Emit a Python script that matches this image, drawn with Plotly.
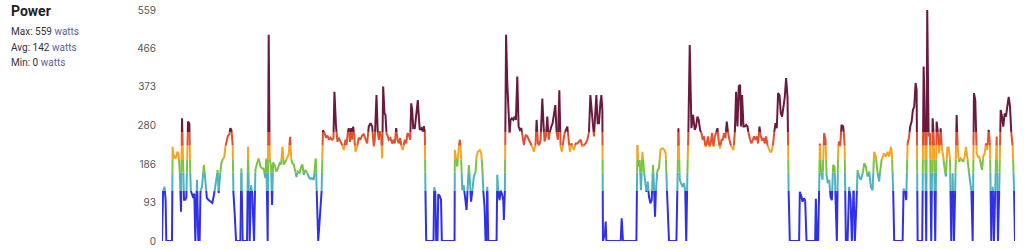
import plotly.graph_objects as go

# ---- data ----
elapsed = [
    161.7, 162.3, 163.7, 164.3, 165.3, 166.0, 171.7, 172.3, 173.3, 174.3, 175.7, 177.0, 178.3, 179.3,
    180.7, 181.7, 182.7, 183.7, 185.0, 186.0, 187.7, 189.0, 190.3, 191.7, 193.0, 194.0, 195.0, 196.7,
    198.0, 199.3, 200.0, 201.7, 203.5, 205.0, 206.5, 208.0, 210.0, 212.0, 213.5, 214.5, 216.0, 217.3,
    218.3, 219.3, 221.0, 222.7, 224.0, 225.0, 226.0, 227.5, 229.0, 230.0, 231.0, 232.3, 233.0, 234.3,
    235.7, 240.0, 241.0, 242.3, 246.7, 247.7, 249.3, 250.7, 251.7, 253.7, 255.0, 256.7, 258.3, 260.0,
    261.7, 263.3, 265.0, 266.0, 267.3, 268.3, 269.3, 270.7, 271.7, 272.7, 274.0, 276.0, 277.3, 279.3,
    280.7, 282.0, 283.3, 285.0, 286.7, 288.3, 289.7, 290.7, 292.0, 293.3, 294.7, 296.0, 297.3, 299.3,
    300.7, 302.0, 303.3, 305.0, 306.7, 308.3, 310.0, 311.7, 313.3, 315.3, 317.8, 319.5, 321.0, 322.5,
    324.0, 325.5, 327.0, 328.5, 330.0, 331.5, 333.0, 334.0, 335.5, 337.0, 338.3, 340.0, 341.5, 343.3,
    345.0, 346.0, 347.3, 348.3, 349.5, 350.7, 351.7, 352.7, 354.0, 355.0, 356.7, 358.3, 360.0, 361.5,
    363.3, 365.0, 366.7, 368.3, 370.0, 371.7, 373.3, 374.3, 376.0, 377.3, 378.3, 379.3, 380.7, 381.7,
    382.7, 384.0, 385.0, 386.0, 387.3, 388.3, 390.0, 391.7, 393.3, 394.3, 395.7, 397.0, 398.3, 399.7,
    401.0, 402.3, 404.3, 405.7, 407.0, 408.3, 409.7, 410.7, 411.7, 412.7, 414.3, 416.0, 417.3, 418.3,
    419.3, 421.0, 422.3, 423.3, 424.3, 425.0, 425.7, 433.0, 433.7, 434.7, 435.7, 437.0, 437.7, 439.0,
    440.5, 441.3, 454.0, 454.3, 455.7, 456.7, 458.3, 459.3, 460.3, 461.7, 463.0, 465.0, 466.0, 468.3,
    469.5, 470.5, 471.7, 473.3, 475.0, 476.0, 477.3, 479.3, 480.7, 481.7, 482.7, 484.0, 485.0, 486.0,
    486.7, 487.7, 496.0, 496.7, 497.7, 499.0, 500.0, 501.3, 502.7, 503.3, 504.3, 505.5, 506.7, 508.0,
    509.0, 510.0, 511.3, 512.7, 514.0, 515.3, 516.7, 518.0, 519.3, 520.7, 522.0, 523.3, 525.0, 526.7,
    528.3, 530.0, 531.7, 533.3, 535.0, 536.0, 537.3, 538.7, 540.0, 541.7, 543.0, 544.0, 545.3, 546.7,
    548.0, 549.3, 550.7, 552.0, 553.3, 554.7, 556.0, 557.3, 558.7, 560.0, 561.3, 562.7, 564.0, 565.3,
    566.7, 568.0, 569.3, 570.7, 572.0, 573.3, 575.0, 576.7, 578.3, 580.0, 581.7, 583.3, 585.0, 586.7,
    588.3, 589.7, 591.0, 592.3, 593.3, 594.3, 595.7, 597.0, 598.3, 599.7, 600.7, 601.7, 602.3, 604.3,
    605.0, 605.7, 620.0, 621.0, 622.3, 635.7, 636.7, 637.7, 639.0, 640.3, 641.7, 643.0, 644.3, 645.7,
    647.0, 648.3, 649.7, 651.0, 652.3, 653.3, 654.3, 655.7, 657.0, 658.3, 659.7, 661.0, 662.3, 663.7,
    665.0, 666.0, 667.0, 668.3, 675.7, 676.7, 677.7, 679.0, 680.3, 681.7, 683.3, 684.5, 685.5, 686.7,
    688.0, 689.0, 690.7, 692.3, 694.0, 695.3, 696.7, 698.0, 699.3, 700.7, 702.0, 703.3, 704.7, 706.0,
    707.3, 708.7, 710.0, 711.3, 712.7, 714.0, 715.3, 716.7, 718.0, 719.3, 720.7, 722.0, 723.3, 724.7,
    726.0, 727.3, 728.7, 730.0, 731.3, 732.7, 734.0, 735.3, 736.7, 738.0, 739.3, 740.3, 741.3, 742.7,
    744.0, 745.3, 746.7, 748.0, 749.3, 750.7, 752.0, 753.3, 754.7, 756.0, 757.3, 758.7, 760.0, 761.3,
    762.7, 764.0, 765.3, 766.7, 768.0, 769.3, 770.7, 772.0, 773.3, 774.7, 776.0, 777.3, 778.7, 780.0,
    781.3, 782.7, 784.0, 785.3, 786.7, 788.3, 789.0, 798.3, 799.0, 800.7, 801.7, 803.0, 804.3, 805.7,
    814.3, 815.0, 816.0, 817.3, 818.3, 819.0, 820.3, 821.7, 823.3, 824.7, 825.7, 827.0, 828.3, 829.7,
    831.0, 832.3, 833.7, 835.0, 836.0, 837.3, 838.3, 839.3, 840.7, 842.3, 843.7, 845.0, 846.7, 848.3,
    849.7, 851.0, 852.7, 854.0, 855.7, 856.7, 858.3, 860.0, 861.7, 863.3, 865.0, 866.7, 868.3, 870.0,
    871.7, 873.3, 875.0, 876.7, 878.3, 880.0, 881.7, 883.3, 885.0, 886.7, 888.3, 890.0, 891.0, 892.3,
    893.3, 901.7, 902.7, 904.0, 905.3, 906.7, 908.0, 909.3, 910.7, 912.0, 913.3, 914.7, 915.7, 916.7,
    921.3, 922.7, 924.0, 925.3, 926.3, 927.7, 929.0, 930.3, 931.7, 933.0, 934.3, 935.7, 937.0, 938.3,
    939.7, 941.0, 942.3, 943.7, 945.0, 946.3, 947.7, 949.0, 950.3, 951.7, 953.0, 954.3, 955.7, 957.0,
    958.3, 959.7, 961.0, 962.3, 963.7, 965.0, 966.3, 967.7, 969.0, 970.3, 971.7, 973.0, 974.3, 975.7,
    977.0, 978.3, 979.7, 981.0, 982.3, 983.7, 985.0, 986.3, 987.7, 989.0, 990.3, 991.7, 993.0, 994.3,
    995.7, 997.0, 998.3, 999.7, 1001.0, 1002.3, 1003.7, 1005.0, 1006.3, 1007.7, 1009.0, 1010.3, 1011.7,
    1013.0, 1014.0,
]

power = [
    0, 119, 125, 131, 100, 0, 0, 228, 200, 205, 200, 216, 210, 180,
    71, 297, 200, 100, 100, 105, 289, 285, 123, 112, 104, 115, 0, 148,
    0, 0, 120, 131, 184, 150, 104, 100, 97, 92, 110, 125, 143, 172,
    116, 148, 189, 200, 204, 228, 237, 254, 258, 273, 269, 244, 120, 67,
    0, 0, 176, 0, 0, 228, 0, 135, 118, 0, 172, 188, 200, 180,
    176, 175, 152, 200, 0, 499, 200, 180, 87, 190, 185, 168, 175, 188,
    185, 228, 185, 192, 200, 210, 252, 200, 188, 185, 172, 155, 168, 165,
    180, 185, 160, 172, 165, 155, 150, 152, 148, 200, 0, 60, 100, 268,
    262, 250, 255, 245, 250, 245, 248, 361, 280, 240, 250, 240, 235, 220,
    245, 232, 262, 273, 240, 273, 245, 277, 250, 216, 228, 250, 245, 255,
    258, 245, 236, 277, 285, 277, 228, 245, 353, 261, 245, 265, 253, 200,
    374, 309, 305, 261, 253, 245, 249, 236, 245, 236, 273, 245, 236, 249,
    228, 220, 245, 236, 261, 257, 245, 333, 317, 273, 273, 305, 341, 301,
    269, 273, 265, 278, 265, 100, 0, 0, 130, 120, 0, 0, 113, 110,
    100, 0, 0, 220, 196, 180, 228, 245, 220, 123, 135, 99, 75, 184,
    140, 95, 120, 156, 168, 204, 216, 220, 212, 180, 123, 83, 0, 0,
    131, 0, 0, 160, 119, 99, 123, 115, 99, 51, 123, 499, 382, 301,
    261, 293, 297, 293, 301, 293, 398, 277, 269, 273, 253, 232, 257, 253,
    245, 236, 228, 216, 236, 293, 236, 232, 245, 345, 277, 241, 253, 301,
    245, 265, 277, 285, 309, 329, 261, 245, 365, 228, 216, 245, 261, 269,
    277, 245, 216, 236, 228, 220, 236, 236, 241, 245, 228, 232, 236, 245,
    261, 353, 317, 285, 253, 301, 353, 285, 285, 333, 353, 317, 0, 19,
    47, 0, 0, 55, 0, 0, 232, 180, 196, 123, 216, 180, 140, 119,
    144, 107, 91, 99, 184, 131, 59, 156, 172, 176, 220, 224, 224, 220,
    212, 140, 71, 0, 0, 135, 273, 148, 140, 131, 140, 123, 0, 168,
    300, 474, 273, 305, 269, 277, 301, 293, 269, 261, 245, 253, 228, 236,
    253, 228, 236, 261, 228, 253, 261, 273, 236, 224, 245, 245, 261, 249,
    289, 261, 245, 232, 224, 220, 257, 361, 277, 374, 378, 277, 353, 277,
    277, 281, 277, 257, 245, 236, 245, 253, 245, 253, 236, 277, 253, 245,
    249, 236, 253, 232, 224, 216, 216, 228, 261, 285, 273, 358, 353, 309,
    301, 325, 349, 394, 349, 19, 0, 0, 119, 107, 95, 103, 99, 0,
    0, 102, 0, 0, 123, 236, 164, 148, 261, 245, 160, 140, 148, 107,
    99, 184, 180, 83, 0, 228, 241, 228, 281, 277, 245, 0, 0, 131,
    99, 0, 123, 0, 99, 172, 156, 148, 160, 188, 180, 156, 168, 131,
    123, 216, 204, 164, 144, 192, 204, 212, 204, 216, 204, 228, 212, 119,
    0, 0, 127, 119, 99, 236, 249, 277, 289, 317, 325, 382, 366, 0,
    0, 422, 301, 0, 559, 253, 261, 0, 297, 245, 0, 289, 261, 212,
    273, 224, 204, 172, 156, 224, 228, 204, 0, 164, 0, 131, 305, 204,
    192, 200, 196, 192, 204, 228, 204, 172, 148, 131, 0, 358, 341, 212,
    204, 204, 188, 172, 204, 212, 236, 220, 269, 236, 0, 131, 0, 131,
    253, 0, 131, 317, 301, 277, 309, 301, 325, 349, 325, 261, 228,
    131, 0,
]

zone_edges = [0, 121, 165, 198, 231, 264]
zone_colors = ["#3030e4", "#4fb3bf", "#7cc242", "#f4a623", "#e2512f", "#6a1a3d"]
y_ticks = [0, 93, 186, 280, 373, 466, 559]
title_text = "Power"
stat_lines = [("Max", 559), ("Avg", 142), ("Min", 0)]
unit = "watts"

# ---- split the polyline into zone-coloured pieces ----
def zone_of(v):
    z = 0
    for i, e in enumerate(zone_edges):
        if v >= e:
            z = i
    return z

bounds = zone_edges[1:]
zx = {i: [] for i in range(len(zone_edges))}
zy = {i: [] for i in range(len(zone_edges))}
last = {i: None for i in range(len(zone_edges))}

for i in range(len(elapsed) - 1):
    x0, y0, x1, y1 = elapsed[i], power[i], elapsed[i + 1], power[i + 1]
    pts = [(x0, y0)]
    lo, hi = min(y0, y1), max(y0, y1)
    cr = [b for b in bounds if lo < b < hi]
    cr.sort(reverse=(y1 < y0))
    for b in cr:
        t = (b - y0) / (y1 - y0)
        pts.append((x0 + t * (x1 - x0), b))
    pts.append((x1, y1))
    for a, b in zip(pts[:-1], pts[1:]):
        z = zone_of((a[1] + b[1]) / 2)
        if last[z] != a:
            if zx[z]:
                zx[z].append(None)
                zy[z].append(None)
            zx[z].append(a[0])
            zy[z].append(a[1])
        zx[z].append(b[0])
        zy[z].append(b[1])
        last[z] = b

fig = go.Figure()
for z in range(len(zone_edges)):
    fig.add_trace(go.Scatter(
        x=zx[z], y=zy[z], mode="lines",
        line=dict(color=zone_colors[z], width=2),
        connectgaps=False, hoverinfo="skip", showlegend=False, cliponaxis=False,
    ))

W, H = 1024, 250
ml, mr, mt, mb = 162, 9, 10, 9
pw = W - ml - mr
ph = H - mt - mb

def px(xp):
    return (xp - ml) / pw

def py(yp):
    return (H - mb - yp) / ph

ann = [dict(text="<b>" + title_text + "</b>", x=px(9), y=py(11.5), xref="paper", yref="paper",
            xanchor="left", yanchor="middle", showarrow=False,
            font=dict(family="Roboto, Inter, sans-serif", size=14, color="#1f1f1f"))]
for k, (lab, val) in enumerate(stat_lines):
    ann.append(dict(
        text=f"{lab}: {val} <span style='color:#5b6392'>{unit}</span>",
        x=px(9), y=py(31.5 + 15.5 * k), xref="paper", yref="paper",
        xanchor="left", yanchor="middle", showarrow=False,
        font=dict(family="Roboto, Inter, sans-serif", size=10, color="#333333")))

fig.update_layout(
    width=W, height=H,
    margin=dict(l=ml, r=mr, t=mt, b=mb, autoexpand=False),
    paper_bgcolor="white", plot_bgcolor="white",
    xaxis=dict(range=[min(elapsed), max(elapsed)], visible=False, fixedrange=True,
               automargin=False),
    yaxis=dict(range=[0, 559], tickvals=y_ticks, ticktext=[str(v) for v in y_ticks],
               showgrid=False, zeroline=False, showline=False, ticks="",
               ticklabelstandoff=5,
               tickfont=dict(family="Inter, Roboto, sans-serif", size=10, color="#555555"),
               fixedrange=True, automargin=False),
    annotations=ann,
    hovermode=False,
)

fig.write_html("out.html", config={"displayModeBar": False})
